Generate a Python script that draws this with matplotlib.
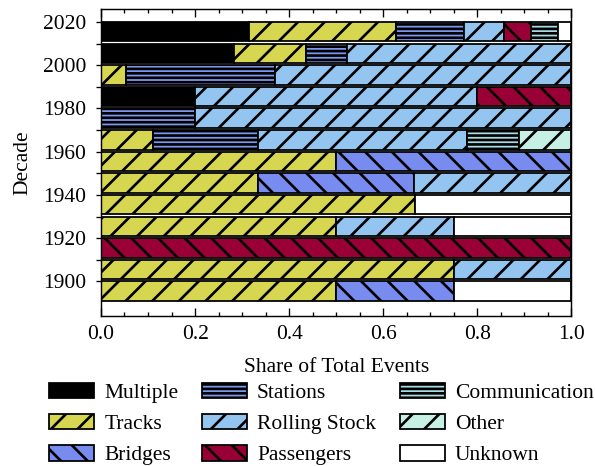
import matplotlib
matplotlib.use("Agg")
import matplotlib.pyplot as plt
from matplotlib.ticker import MultipleLocator
import numpy as np

# share of events per decade
decades = [1900, 1910, 1920, 1930, 1940, 1950, 1960, 1970, 1980, 1990, 2000, 2010, 2020]
categories = ['Multiple', 'Tracks', 'Bridges', 'Stations', 'Rolling Stock',
              'Passengers', 'Communication', 'Other', 'Unknown']

multiple      = [0,    0,    0, 0,    0,     0,     0,   0,     0,   0.2, 0,     0.283, 0.314]
tracks        = [0.5,  0.75, 0, 0.5,  0.667, 0.333, 0.5, 0.111, 0,   0,   0.053, 0.152, 0.314]
bridges       = [0.25, 0,    0, 0,    0,     0.333, 0.5, 0,     0,   0,   0,     0,     0]
stations      = [0,    0,    0, 0,    0,     0,     0,   0.222, 0.2, 0,   0.316, 0.087, 0.143]
rolling_stock = [0,    0.25, 0, 0.25, 0,     0.334, 0,   0.444, 0.8, 0.6, 0.631, 0.478, 0.086]
passengers    = [0,    0,    1, 0,    0,     0,     0,   0,     0,   0.2, 0,     0,     0.057]
communication = [0,    0,    0, 0,    0,     0,     0,   0.111, 0,   0,   0,     0,     0.057]
other         = [0,    0,    0, 0,    0,     0,     0,   0.112, 0,   0,   0,     0,     0]
unknown       = [0.25, 0,    0, 0.25, 0.333, 0,     0,   0,     0,   0,   0,     0,     0.029]

series = [multiple, tracks, bridges, stations, rolling_stock,
          passengers, communication, other, unknown]
colors = ['black', '#d6d651', '#788cf0', '#7c97ee', '#94c4f0',
          '#990036', '#a6dbe3', '#c7f0e4', 'white']
hatches = [None, '/', '\\', '---', '/', '\\', '---', '/', None]

plt.rcParams['font.family'] = 'serif'
plt.rcParams['font.serif'] = ['Liberation Serif']
plt.rcParams['font.size'] = 19.3
plt.rcParams['hatch.linewidth'] = 2.4

fig = plt.figure(figsize=(595 / 80, 466 / 80), dpi=80)
ax = fig.add_axes([0.1697, 0.3219, 0.7908, 0.6588])

y = np.array(decades) - 4.5
left = np.zeros(len(decades))
for name, vals, col, hat in zip(categories, series, colors, hatches):
    vals = np.array(vals, dtype=float)
    mask = vals > 0
    ax.barh(y[mask], vals[mask], height=9, left=left[mask], color=col,
            hatch=hat, edgecolor='black', linewidth=1.6, label=name)
    left += vals

ax.set_xlim(0, 1)
ax.set_ylim(1884, 2026)
ax.set_yticks(decades)
ax.set_yticklabels([str(d) if d % 20 == 0 else '' for d in decades])
ax.xaxis.set_major_locator(MultipleLocator(0.2))
ax.xaxis.set_minor_locator(MultipleLocator(0.05))

ax.tick_params(axis='y', direction='out', length=4.5, width=1.2, pad=9,
               left=True, right=False)
ax.tick_params(axis='x', which='major', direction='in', length=7.2, width=1.2,
               pad=8, top=True, bottom=True)
ax.tick_params(axis='x', which='minor', direction='in', length=3.6, width=1.2,
               top=True, bottom=True)
for s in ax.spines.values():
    s.set_linewidth(1.3)

ax.set_xlabel('Share of Total Events')
ax.set_ylabel('Decade')
ax.xaxis.set_label_coords(0.5, -0.138)
ax.yaxis.set_label_coords(-0.145, 0.5)

fig.legend(loc='upper center', bbox_to_anchor=(0.54, 0.2017), ncol=3,
           frameon=False, borderpad=0, handlelength=2.1, handleheight=0.75,
           handletextpad=0.47, labelspacing=0.5, columnspacing=1.1)

fig.savefig('out.png', dpi=80)
